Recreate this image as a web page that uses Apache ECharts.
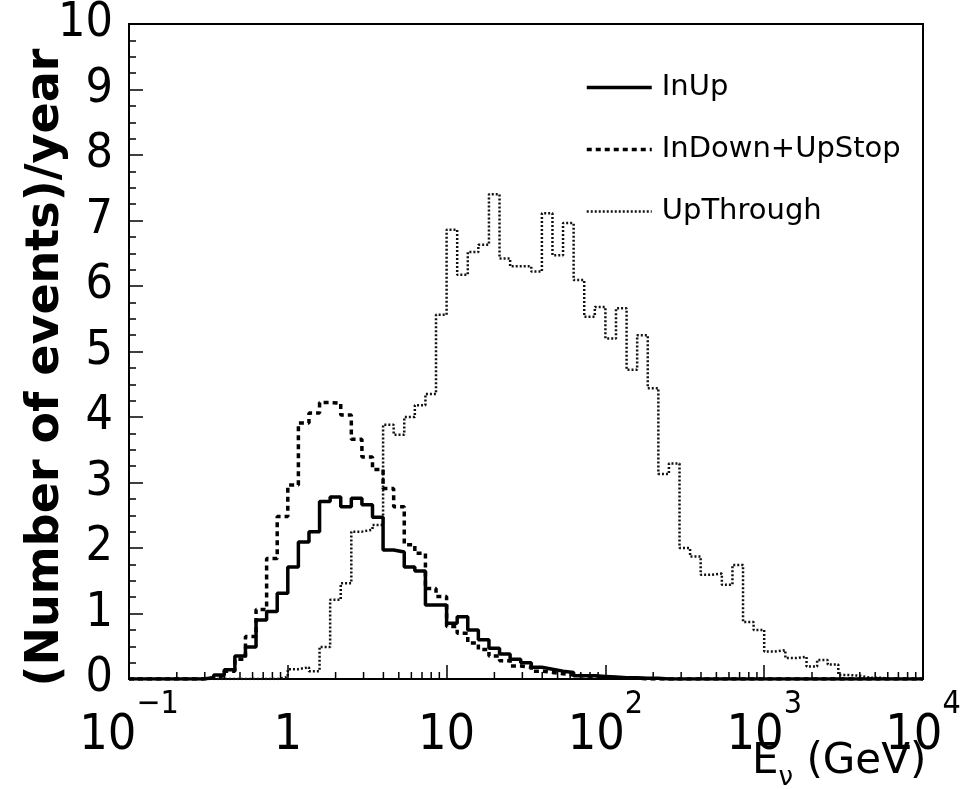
<!DOCTYPE html>
<html>
<head>
<meta charset="utf-8">
<script src="https://cdn.jsdelivr.net/npm/echarts@6/dist/echarts.min.js"></script>
<style>
html,body{margin:0;padding:0;background:#fff;}
#chart{width:978px;height:789px;}
</style>
</head>
<body>
<div id="chart"></div>
<script>
// Histogram binning: 15 log bins per decade from 1e-1 to 1e4
const xMin = 0.1;
const xMax = 10000;
const binsPerDecade = 15;

const seriesNames = ["InUp", "InDown+UpStop", "UpThrough"];

// bin contents (events/year), 75 bins
const inUp = [
  0,0,0,0,0,0,0,0.02,0.06,0.14,
  0.35,0.49,0.90,1.03,1.31,1.71,2.09,2.25,2.71,2.78,
  2.63,2.76,2.66,2.47,1.97,1.94,1.71,1.65,1.13,1.13,
  0.85,0.95,0.75,0.60,0.47,0.38,0.30,0.25,0.18,0.15,
  0.12,0.10,0.05,0.05,0.04,0.03,0.02,0.02,0.01,0.01,
  0,0,0,0,0,0,0,0,0,0,
  0,0,0,0,0,0,0,0,0,0,
  0,0,0,0,0
];
const inDownUpStop = [
  0,0,0,0,0,0,0,0.02,0.05,0.12,
  0.30,0.65,1.06,1.84,2.48,2.96,3.91,4.06,4.22,4.21,
  4.03,3.66,3.39,3.20,2.91,2.63,2.05,1.92,1.38,1.26,
  0.80,0.70,0.55,0.45,0.35,0.28,0.20,0.18,0.12,0.10,
  0.08,0.06,0.05,0.04,0.03,0.02,0.02,0.01,0,0,
  0,0,0,0,0,0,0,0,0,0,
  0,0,0,0,0,0,0,0,0,0,
  0,0,0,0,0
];
const upThrough = [
  0,0,0,0,0,0,0,0,0,0,
  0,0,0,0,0.03,0.15,0.18,0.12,0.49,1.21,
  1.46,2.25,2.28,2.35,3.88,3.73,4.00,4.18,4.35,5.56,
  6.86,6.17,6.52,6.63,7.40,6.42,6.30,6.30,6.22,7.11,
  6.47,6.96,6.09,5.53,5.68,5.20,5.66,4.72,5.25,4.44,
  3.13,3.29,2.00,1.87,1.59,1.61,1.44,1.74,0.87,0.75,
  0.42,0.44,0.32,0.34,0.19,0.29,0.22,0.06,0.05,0.02,
  0.02,0,0,0,0
];

// tick values
const xMinorTicks = [];
for (let d = -1; d < 4; d++) {
  for (let m = 2; m <= 9; m++) xMinorTicks.push(m * Math.pow(10, d));
}

function binEdge(i) { return Math.pow(10, Math.log10(xMin) + i / binsPerDecade); }
function histPoints(vals) {
  const pts = vals.map((v, i) => [binEdge(i), v]);
  pts.push([binEdge(vals.length), vals[vals.length - 1]]);
  return pts;
}

const FONT = "DejaVu Sans";
const NARROW = "'Liberation Sans Narrow', 'DejaVu Sans Condensed', sans-serif";
const styles = [
  {color: '#000', width: 3.5, type: 'solid'},
  {color: '#000', width: 3.5, type: [5, 4]},
  {color: '#111', width: 2.5, type: [2, 2]}
];
const chart = echarts.init(document.getElementById('chart'), null, {renderer: 'canvas'});

function xLabel(v) {
  const e = Math.round(Math.log10(v));
  if (e === 0) return '{m|1}';
  if (e === 1) return '{m|10}';
  return '{m|10}{s|' + (e < 0 ? '\u2212' + (-e) : e) + '}';
}

const option = {
  animation: false,
  backgroundColor: '#fff',
  grid: {left: 129, right: 55, top: 24, bottom: 110, show: true, borderColor: '#000', borderWidth: 2,
         backgroundColor: 'transparent', containLabel: false, outerBoundsMode: 'none'},
  legend: {
    orient: 'vertical', left: 585, top: 73, padding: 0,
    itemWidth: 65, itemHeight: 30, itemGap: 33,
    itemStyle: {opacity: 0},
    data: seriesNames.map((n, i) => ({name: n, lineStyle: {width: styles[i].width, type: styles[i].type, color: styles[i].color}})),
    textStyle: {fontFamily: FONT, fontSize: 29, color: '#000', padding: [0, 0, 0, 5]}
  },
  xAxis: {
    type: 'log', logBase: 10, min: xMin, max: xMax,
    axisLine: {show: true, lineStyle: {color: '#000', width: 2}},
    axisTick: {show: true, inside: true, length: 14, lineStyle: {color: '#000', width: 1.5}},
    splitLine: {show: false},
    axisLabel: {
      margin: 10, formatter: xLabel,
      rich: {
        m: {fontFamily: NARROW, fontSize: 50, color: '#000', lineHeight: 94},
        s: {fontFamily: NARROW, fontSize: 32, color: '#000', lineHeight: 26, verticalAlign: 'top'}
      }
    },
    name: '{e|E}{n|\u03bd}{g| (GeV)}',
    nameLocation: 'end', nameGap: -171, nameMoveOverlap: false,
    nameTextStyle: {
      align: 'left', verticalAlign: 'top', padding: [62, 0, 0, 0],
      rich: {
        e: {fontFamily: FONT, fontSize: 42, color: '#000', lineHeight: 50, verticalAlign: 'top'},
        n: {fontFamily: FONT, fontSize: 26, color: '#000', lineHeight: 4, verticalAlign: 'bottom'},
        g: {fontFamily: FONT, fontSize: 42, color: '#000', lineHeight: 50, verticalAlign: 'top'}
      }
    }
  },
  yAxis: {
    type: 'value', min: 0, max: 10, interval: 1,
    axisLine: {show: true, lineStyle: {color: '#000', width: 2}},
    axisTick: {show: true, inside: true, length: 14, lineStyle: {color: '#000', width: 1.5}},
    minorTick: {show: true, splitNumber: 4, length: 7, lineStyle: {color: '#000', width: 1.5}},
    splitLine: {show: false},
    axisLabel: {margin: 16, fontFamily: NARROW, fontSize: 48, color: '#000'},
    name: '(Number of events)/year',
    nameLocation: 'middle', nameGap: 60, nameRotate: 90, nameMoveOverlap: false,
    nameTextStyle: {fontFamily: FONT, fontSize: 46, fontWeight: 'bold', color: '#000', padding: [0, 32, 0, 0]}
  },
  series: [
    {
      name: seriesNames[0], type: 'line', step: 'end', symbol: 'none',
      data: histPoints(inUp),
      lineStyle: styles[0], itemStyle: {color: '#000'}, z: 5
    },
    {
      name: seriesNames[1], type: 'line', step: 'end', symbol: 'none',
      data: histPoints(inDownUpStop),
      lineStyle: styles[1], itemStyle: {color: '#000'}, z: 4
    },
    {
      name: seriesNames[2], type: 'line', step: 'end', symbol: 'none',
      data: histPoints(upThrough),
      lineStyle: styles[2], itemStyle: {color: '#111'}, z: 3
    },
    {
      name: 'minorTicks', type: 'custom', silent: true, clip: false,
      data: xMinorTicks.map(v => [v, 0]),
      renderItem: function (params, api) {
        const p = api.coord([api.value(0), 0]);
        return {type: 'line', shape: {x1: p[0], y1: p[1], x2: p[0], y2: p[1] - 7}, style: {stroke: '#000', lineWidth: 1.5}};
      }
    }
  ]
};
chart.setOption(option);
</script>
</body>
</html>
